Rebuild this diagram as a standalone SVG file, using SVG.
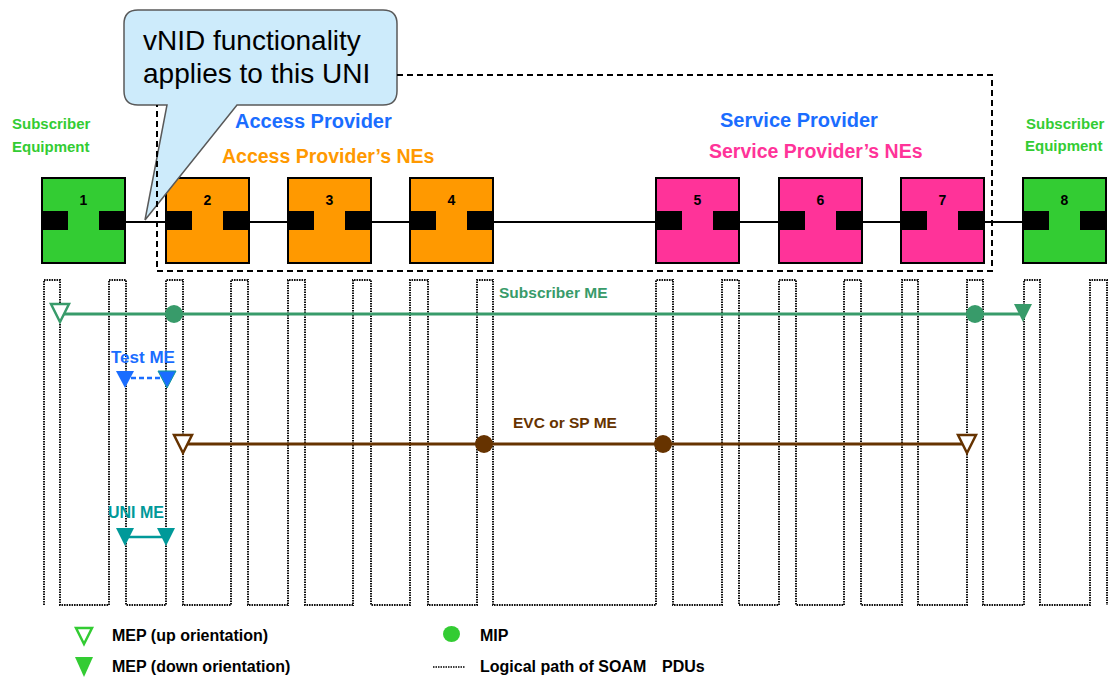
<svg xmlns="http://www.w3.org/2000/svg" width="1109" height="677" viewBox="0 0 1109 677">
<style>
text{font-family:"Liberation Sans",Arial,sans-serif;font-weight:bold}
.node rect.box{stroke:#000;stroke-width:2}
.port{fill:#000}
.num{font-size:14px;fill:#000;text-anchor:middle}
.green{fill:#33CC33}
.orange{fill:#FF9900}
.pink{fill:#FF3399}
.sub{fill:#33CC33;font-size:15px}
.prov{fill:#1A6DFF;font-size:20px}
.dotpath{fill:none;stroke:#111;stroke-width:2;stroke-dasharray:1.6 0.9}
.leg{font-size:16px;fill:#000}
</style>
<rect width="1109" height="677" fill="#fff"/>

<!-- main connection line -->
<g id="connectors">
<line x1="124" y1="222" x2="1023" y2="222" stroke="#000" stroke-width="2"/>
<path class="dotpath" d="M44,605 V280 H60 V605 H109 V280 H126 V605 H166 V280 H183 V605 H231 V280 H248 V605 H288 V280 H305 V605 H353 V280 H371 V605 H410 V280 H428 V605 H477 V280 H493 V605 H656 V280 H673 V605 H722 V280 H739 V605 H779 V280 H796 V605 H844 V280 H861 V605 H902 V280 H918 V605 H967 V280 H983 V605 H1024 V280 H1040 V605 H1090 V280 H1107 V605"/>
</g>

<!-- nodes -->
<g id="node1" class="node"><rect class="box green" x="42" y="178" width="83" height="85"/><rect class="port" x="42" y="211" width="26" height="19"/><rect class="port" x="99" y="211" width="26" height="19"/><text class="num" x="83.5" y="205">1</text></g>
<g id="node2" class="node"><rect class="box orange" x="166" y="178" width="83" height="85"/><rect class="port" x="166" y="211" width="26" height="19"/><rect class="port" x="223" y="211" width="26" height="19"/><text class="num" x="207.5" y="205">2</text></g>
<g id="node3" class="node"><rect class="box orange" x="288" y="178" width="83" height="85"/><rect class="port" x="288" y="211" width="26" height="19"/><rect class="port" x="345" y="211" width="26" height="19"/><text class="num" x="329.5" y="205">3</text></g>
<g id="node4" class="node"><rect class="box orange" x="410" y="178" width="83" height="85"/><rect class="port" x="410" y="211" width="26" height="19"/><rect class="port" x="467" y="211" width="26" height="19"/><text class="num" x="451.5" y="205">4</text></g>
<g id="node5" class="node"><rect class="box pink" x="656" y="178" width="83" height="85"/><rect class="port" x="656" y="211" width="26" height="19"/><rect class="port" x="713" y="211" width="26" height="19"/><text class="num" x="697.5" y="205">5</text></g>
<g id="node6" class="node"><rect class="box pink" x="779" y="178" width="83" height="85"/><rect class="port" x="779" y="211" width="26" height="19"/><rect class="port" x="836" y="211" width="26" height="19"/><text class="num" x="820.5" y="205">6</text></g>
<g id="node7" class="node"><rect class="box pink" x="901" y="178" width="83" height="85"/><rect class="port" x="901" y="211" width="26" height="19"/><rect class="port" x="958" y="211" width="26" height="19"/><text class="num" x="942.5" y="205">7</text></g>
<g id="node8" class="node"><rect class="box green" x="1023" y="178" width="83" height="85"/><rect class="port" x="1023" y="211" width="26" height="19"/><rect class="port" x="1080" y="211" width="26" height="19"/><text class="num" x="1064.5" y="205">8</text></g>

<!-- callout -->
<g id="callout">
<path d="M138,10 H383 Q397,10 397,24 V91 Q397,105 383,105 H237 L145,220 L167,105 H138 Q124,105 124,91 V24 Q124,10 138,10 Z" fill="#CDEBFB" stroke="#595959" stroke-width="1.5"/>
<text x="143" y="50" font-size="28" style="font-weight:normal" fill="#000">vNID functionality</text>
<text x="143" y="83" font-size="28" style="font-weight:normal" fill="#000">applies to this UNI</text>
</g>

<!-- provider boundary -->
<g id="boundary">
<path d="M397,75 H992 V271 H157 V105" fill="none" stroke="#000" stroke-width="2" stroke-dasharray="6 4"/>
</g>

<!-- labels -->
<g id="labels">
<text class="sub" x="12" y="129">Subscriber</text>
<text class="sub" x="12" y="152">Equipment</text>
<text class="sub" x="1026" y="129">Subscriber</text>
<text class="sub" x="1025" y="151">Equipment</text>
<text class="prov" x="235" y="128">Access  Provider</text>
<text x="222" y="163" font-size="19.5" fill="#FF9900">Access Provider’s NEs</text>
<text class="prov" x="720" y="127">Service  Provider</text>
<text x="709" y="158" font-size="19.5" fill="#FF3399">Service Provider’s NEs</text>
</g>

<!-- Subscriber ME -->
<g id="subscriber-me">
<line x1="60" y1="314" x2="1023" y2="314" stroke="#389B6A" stroke-width="3"/>
<polygon points="51,304 69,304 60,322" fill="#fff" stroke="#389B6A" stroke-width="2.5"/>
<circle cx="174" cy="314" r="9" fill="#389B6A"/>
<circle cx="975" cy="314" r="9" fill="#389B6A"/>
<polygon points="1014,304 1032,304 1023,322" fill="#389B6A"/>
<text x="499" y="298" font-size="15.5" fill="#389B6A">Subscriber ME</text>
</g>

<!-- Test ME -->
<g id="test-me">
<text x="111" y="363" font-size="17" fill="#1A6DFF">Test ME</text>
<line x1="131" y1="378" x2="160" y2="378" stroke="#1A6DFF" stroke-width="2.5" stroke-dasharray="5 3"/>
<polygon points="116,371 134,371 125,388" fill="#1A6DFF"/>
<polygon points="158,371 176,371 167,388" fill="#1A6DFF" stroke="#0E9A9A" stroke-width="1"/>
</g>

<!-- EVC or SP ME -->
<g id="evc-me">
<line x1="183" y1="444" x2="967" y2="444" stroke="#663300" stroke-width="3"/>
<polygon points="174,435 192,435 183,453" fill="#fff" stroke="#663300" stroke-width="2.5"/>
<polygon points="958,435 976,435 967,453" fill="#fff" stroke="#663300" stroke-width="2.5"/>
<circle cx="484" cy="444" r="9" fill="#663300"/>
<circle cx="663" cy="444" r="9" fill="#663300"/>
<text x="513" y="428" font-size="15.5" fill="#663300">EVC or SP ME</text>
</g>

<!-- UNI ME -->
<g id="uni-me">
<text x="108" y="518" font-size="16" fill="#009999">UNI ME</text>
<line x1="125" y1="537" x2="166" y2="537" stroke="#009999" stroke-width="2.5"/>
<polygon points="116,528 134,528 125,546" fill="#009999"/>
<polygon points="157,528 175,528 166,546" fill="#009999"/>
</g>

<!-- legend -->
<g id="legend">
<polygon points="76,628 92,628 84,644" fill="#fff" stroke="#33CC33" stroke-width="2.5"/>
<text class="leg" x="112" y="641">MEP (up orientation)</text>
<polygon points="75,657 93,657 84,677" fill="#33CC33"/>
<text class="leg" x="112" y="672">MEP (down orientation)</text>
<ellipse cx="451.5" cy="634" rx="8.5" ry="8" fill="#33CC33"/>
<text class="leg" x="480" y="641">MIP</text>
<line x1="433" y1="667" x2="465" y2="667" stroke="#000" stroke-width="1.5" stroke-dasharray="1.5 1"/>
<text class="leg" x="480" y="672">Logical path of SOAM<tspan x="662">PDUs</tspan></text>
</g>
</svg>
